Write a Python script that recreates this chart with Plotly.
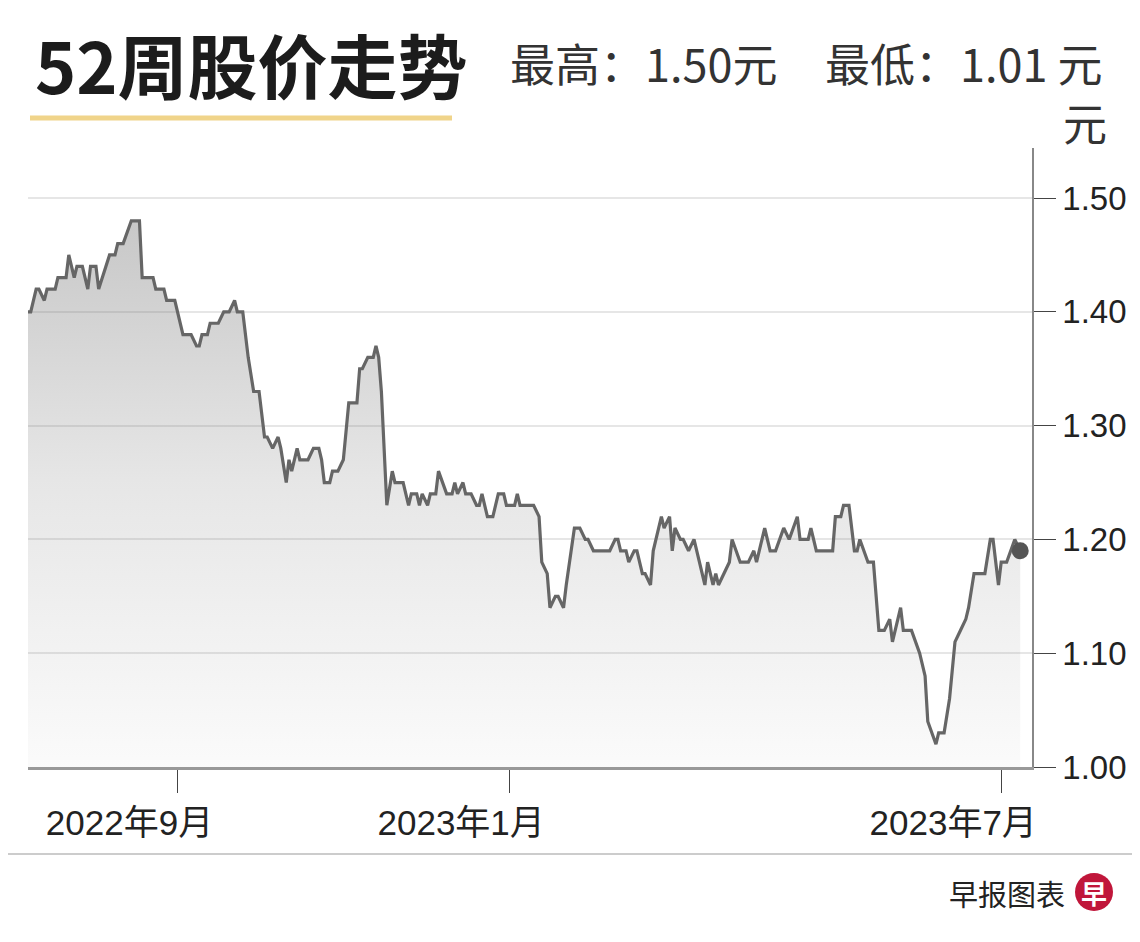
import pandas as pd
import plotly.graph_objects as go

# 1. Price data (days since 2022-07-08, closing price in 元)
start_date = "2022-07-08"
day_offset = [
    0, 1, 3, 4, 6, 7, 10, 11, 14, 15,
    17, 18, 20, 22, 23, 25, 26, 30, 32, 33,
    35, 38, 41, 42, 46, 47, 50, 51, 54, 57,
    60, 62, 63, 64, 66, 67, 70, 72, 74, 76,
    77, 79, 81, 83, 85, 87, 88, 90, 92, 93,
    95, 96, 97, 99, 100, 103, 105, 107, 108, 109,
    111, 112, 114, 116, 118, 121, 122, 123, 125, 127,
    128, 129, 130, 132, 134, 135, 138, 140, 141, 143,
    144, 145, 147, 148, 150, 151, 154, 156, 157, 158,
    160, 161, 163, 165, 166, 167, 169, 171, 173, 175,
    176, 179, 180, 181, 186, 188, 189, 191, 192, 194,
    195, 197, 198, 201, 203, 205, 206, 208, 214, 216,
    217, 218, 220, 221, 223, 224, 226, 227, 229, 230,
    231, 233, 234, 236, 237, 238, 240, 241, 243, 245,
    249, 250, 252, 253, 254, 258, 259, 262, 265, 267,
    268, 271, 273, 275, 278, 280, 283, 284, 287, 288,
    290, 296, 297, 299, 300, 302, 304, 305, 306, 309,
    311, 313, 315, 317, 318, 319, 321, 322, 325, 328,
    330, 331, 334, 335, 337, 339, 341, 343, 345, 346,
    348, 352, 354, 355, 357, 358, 360, 363, 365,
]
price = [
    1.40, 1.40, 1.42, 1.42, 1.41, 1.42, 1.42, 1.43, 1.43, 1.45,
    1.43, 1.44, 1.44, 1.42, 1.44, 1.44, 1.42, 1.45, 1.45, 1.46,
    1.46, 1.48, 1.48, 1.43, 1.43, 1.42, 1.42, 1.41, 1.41, 1.38,
    1.38, 1.37, 1.37, 1.38, 1.38, 1.39, 1.39, 1.40, 1.40, 1.41,
    1.40, 1.40, 1.36, 1.33, 1.33, 1.29, 1.29, 1.28, 1.29, 1.28,
    1.25, 1.27, 1.26, 1.28, 1.27, 1.27, 1.28, 1.28, 1.27, 1.25,
    1.25, 1.26, 1.26, 1.27, 1.32, 1.32, 1.35, 1.35, 1.36, 1.36,
    1.37, 1.36, 1.33, 1.23, 1.26, 1.25, 1.25, 1.23, 1.24, 1.24,
    1.23, 1.24, 1.23, 1.24, 1.24, 1.26, 1.24, 1.24, 1.25, 1.24,
    1.25, 1.24, 1.24, 1.23, 1.23, 1.24, 1.22, 1.22, 1.24, 1.24,
    1.23, 1.23, 1.24, 1.23, 1.23, 1.22, 1.18, 1.17, 1.14, 1.15,
    1.15, 1.14, 1.16, 1.21, 1.21, 1.20, 1.20, 1.19, 1.19, 1.20,
    1.20, 1.19, 1.19, 1.18, 1.19, 1.19, 1.17, 1.17, 1.16, 1.19,
    1.20, 1.22, 1.21, 1.22, 1.19, 1.21, 1.20, 1.20, 1.19, 1.20,
    1.16, 1.18, 1.16, 1.17, 1.16, 1.18, 1.20, 1.18, 1.18, 1.19,
    1.18, 1.21, 1.19, 1.19, 1.21, 1.20, 1.22, 1.20, 1.20, 1.21,
    1.19, 1.19, 1.22, 1.22, 1.23, 1.23, 1.19, 1.19, 1.20, 1.18,
    1.18, 1.12, 1.12, 1.13, 1.11, 1.12, 1.14, 1.12, 1.12, 1.10,
    1.08, 1.04, 1.02, 1.03, 1.03, 1.06, 1.11, 1.12, 1.13, 1.14,
    1.17, 1.17, 1.20, 1.20, 1.16, 1.18, 1.18, 1.20, 1.19,
]
tick_dates = ["2022-09-01", "2023-01-01", "2023-07-01"]
tick_labels = ["2022年9月", "2023年1月", "2023年7月"]
y_ticks = [1.00, 1.10, 1.20, 1.30, 1.40, 1.50]

high_text = "最高：1.50元"
low_text = "最低：1.01 元"

dates = pd.Timestamp(start_date) + pd.to_timedelta(day_offset, unit="D")

# page body adds an 8px margin, so the figure is placed 8px in
OFF = 8
W, H = 1124, 910
L, R, T, B = 20, 100, 140, 151
FONT = "Liberation Sans, Noto Sans CJK SC, sans-serif"
CJK = "Noto Sans CJK SC, sans-serif"


def px(x):
    # screen pixel -> paper x
    return (x - OFF - L) / (W - L - R)


def py(y):
    # screen pixel -> paper y
    return (H - B - (y - OFF)) / (H - B - T)


# 2. Line with gradient area
fig = go.Figure()
fig.add_trace(go.Scatter(
    x=dates, y=price, mode="lines",
    line=dict(color="#666666", width=3.2),
    fill="tozeroy",
    fillgradient=dict(
        type="vertical", start=1.0, stop=1.5,
        colorscale=[[0, "rgba(110,110,110,0.03)"],
                    [0.5, "rgba(110,110,110,0.17)"],
                    [1, "rgba(110,110,110,0.40)"]],
    ),
    hoverinfo="skip",
))
fig.add_trace(go.Scatter(
    x=[dates[-1]], y=[price[-1]], mode="markers",
    marker=dict(color="#555555", size=17),
    hoverinfo="skip",
))

fig.update_layout(
    width=W, height=H,
    margin=dict(l=L, r=R, t=T, b=B, pad=0),
    paper_bgcolor="white", plot_bgcolor="white",
    showlegend=False,
    font=dict(family=FONT, color="#222222"),
)
fig.update_xaxes(
    type="date", automargin=False,
    range=["2022-07-08", "2023-07-12 08:00"],
    tickvals=tick_dates, ticktext=tick_labels,
    tickfont=dict(size=35, family=FONT, color="#222222"),
    ticks="outside", ticklen=23, tickwidth=1.2, tickcolor="#444444",
    ticklabelshift=-48,
    showline=True, linecolor="#999999", linewidth=3,
    showgrid=False, zeroline=False,
)
fig.update_yaxes(
    side="right", automargin=False,
    range=[1.0, 1.544],
    tickvals=y_ticks, tickformat=".2f",
    tickfont=dict(size=33, family=FONT, color="#222222"),
    ticks="outside", ticklen=22, tickwidth=1.2, tickcolor="#444444",
    ticklabelstandoff=0,
    showline=True, linecolor="#888888", linewidth=1.5,
    showgrid=True, gridcolor="#e6e6e6", gridwidth=2,
    zeroline=False,
)

# 3. Header, unit and footer
fig.add_annotation(
    x=px(33), y=py(64), xref="paper", yref="paper",
    xanchor="left", yanchor="middle", showarrow=False,
    text="<b>52周股价走势</b>",
    font=dict(family=CJK, size=70, color="#1c1c1c"),
)
fig.add_shape(
    type="line", xref="paper", yref="paper",
    x0=px(30), x1=px(452), y0=py(118), y1=py(118),
    line=dict(color="#f0d48a", width=5),
)
fig.add_annotation(
    x=px(508), y=py(62), xref="paper", yref="paper",
    xanchor="left", yanchor="middle", showarrow=False,
    text=high_text, font=dict(family=CJK, size=45, color="#333333"),
)
fig.add_annotation(
    x=px(823), y=py(62), xref="paper", yref="paper",
    xanchor="left", yanchor="middle", showarrow=False,
    text=low_text, font=dict(family=CJK, size=45, color="#333333"),
)
fig.add_annotation(
    x=px(1085), y=py(122), xref="paper", yref="paper",
    xanchor="center", yanchor="middle", showarrow=False,
    text="元", font=dict(family=CJK, size=44, color="#333333"),
)
fig.add_shape(
    type="line", xref="paper", yref="paper",
    x0=px(0), x1=px(1140), y0=py(854), y1=py(854),
    line=dict(color="#cccccc", width=2),
)
fig.add_annotation(
    x=px(1067), y=py(893), xref="paper", yref="paper",
    xanchor="right", yanchor="middle", showarrow=False,
    text="早报图表", font=dict(family=CJK, size=29, color="#222222"),
)
fig.add_shape(
    type="circle", xref="paper", yref="paper",
    x0=px(1075), x1=px(1113), y0=py(873), y1=py(911),
    fillcolor="#c0163a", line=dict(width=0),
)
fig.add_annotation(
    x=px(1094), y=py(892), xref="paper", yref="paper",
    xanchor="center", yanchor="middle", showarrow=False,
    text="<b>早</b>", font=dict(family=CJK, size=26, color="white"),
)

fig.write_html("out.html")
